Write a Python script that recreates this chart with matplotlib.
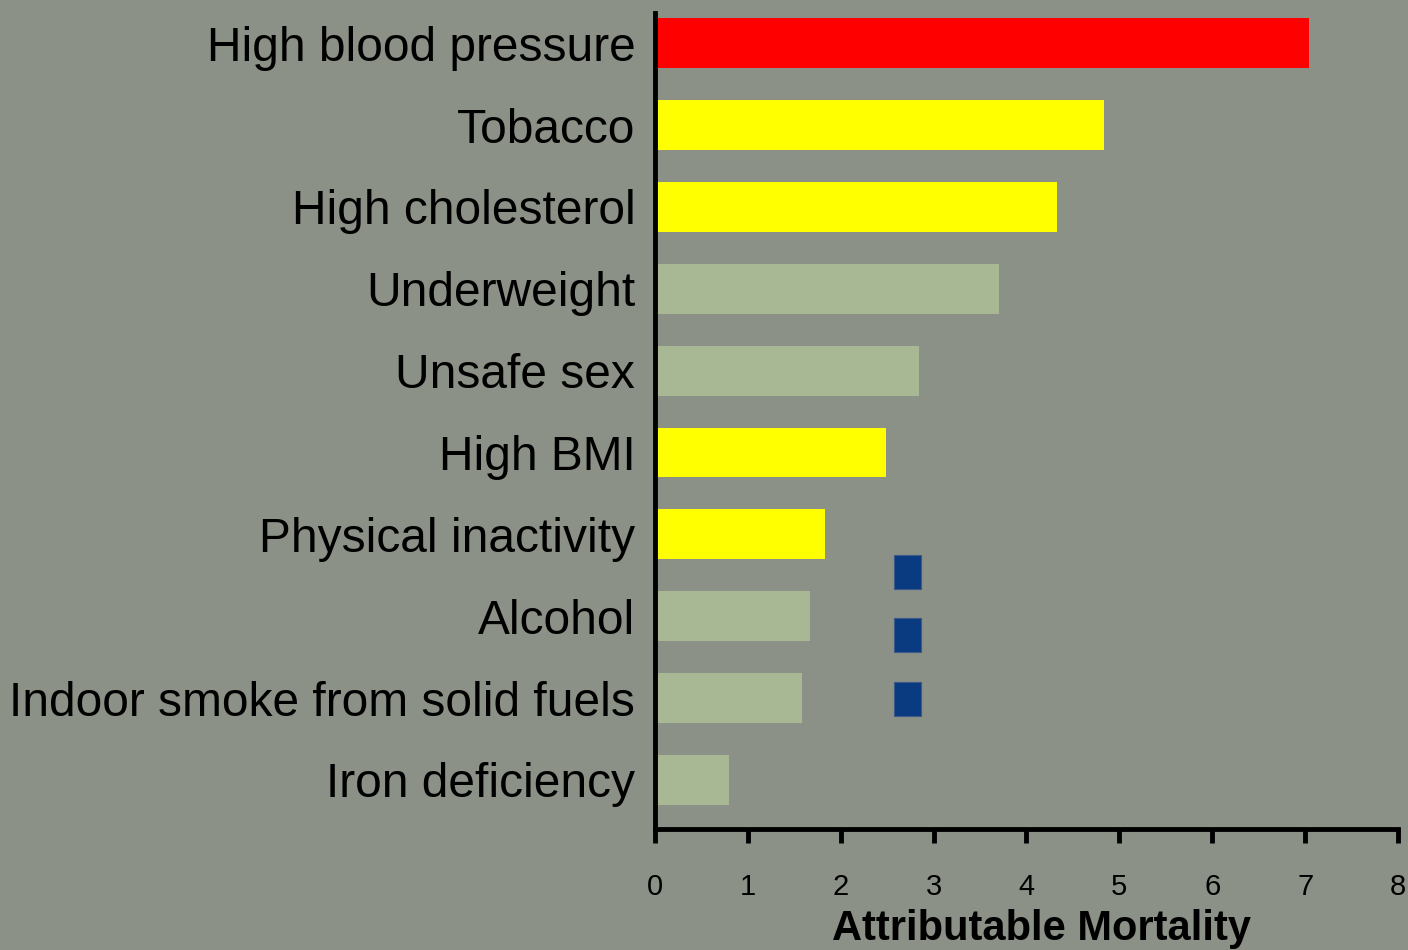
import matplotlib
matplotlib.use("Agg")
import matplotlib.pyplot as plt
from matplotlib import font_manager
import numpy as np

BG = "#8b9186"

categories = ["High blood pressure", "Tobacco", "High cholesterol", "Underweight",
              "Unsafe sex", "High BMI", "Physical inactivity", "Alcohol",
              "Indoor smoke from solid fuels", "Iron deficiency"]
values = [7.04, 4.83, 4.33, 3.70, 2.84, 2.49, 1.83, 1.67, 1.58, 0.80]
bar_colors = ["#ff0000", "#ffff00", "#ffff00", "#a9b894", "#a9b894",
              "#ffff00", "#ffff00", "#a9b894", "#a9b894", "#a9b894"]

# blue square markers between bars
marker_y = [6.46, 7.23, 8.01]
marker_left = 2.58
marker_width = 0.29

xticks = [0, 1, 2, 3, 4, 5, 6, 7, 8]

names = {f.name for f in font_manager.fontManager.ttflist}
narrow = "Liberation Sans Narrow" if "Liberation Sans Narrow" in names else "Liberation Sans"

fig = plt.figure(figsize=(14.08, 9.5), dpi=100, facecolor=BG)
ax = fig.add_axes([0.465, 0.1274, 0.528, 0.8589])
ax.set_facecolor(BG)

y = np.arange(len(categories))
ax.barh(y, values, height=0.61, color=bar_colors)
ax.barh(marker_y, [marker_width] * len(marker_y), left=marker_left, height=0.41,
        color="#0a3a80", edgecolor="#3a5a8a", linewidth=0.8)

ax.set_ylim(9.6, -0.37)
ax.set_xlim(0, 8)

ax.set_yticks(y)
ax.set_yticklabels(categories, fontsize=34.5, family="Liberation Sans")
ax.tick_params(axis="y", length=0, pad=14)

ax.set_xticks(xticks)
ax.set_xticklabels([str(t) for t in xticks], fontsize=21, family=narrow)
ax.tick_params(axis="x", length=10, width=3.5, direction="out", pad=22)

for s in ["top", "right"]:
    ax.spines[s].set_visible(False)
for s in ["left", "bottom"]:
    ax.spines[s].set_linewidth(3.5)
    ax.spines[s].set_color("black")

ax.set_xlabel("Attributable Mortality", fontsize=30, fontweight="bold", family=narrow)
ax.xaxis.set_label_coords(0.52, -0.098)
ax.xaxis.label.set_va("top")

plt.savefig("out.png", dpi=100, facecolor=BG)
plt.close()
